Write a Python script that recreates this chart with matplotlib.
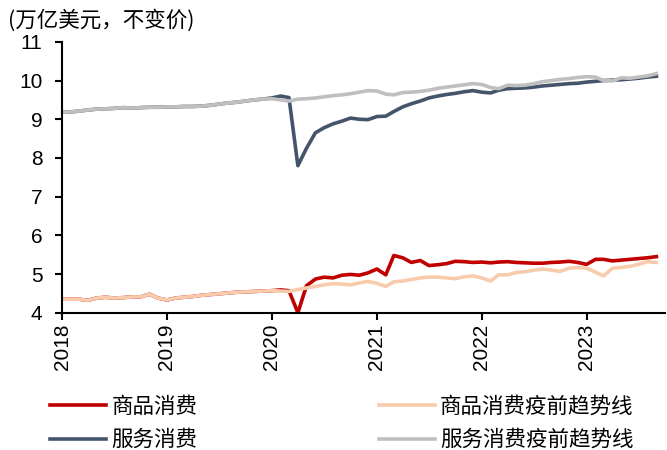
import matplotlib.pyplot as plt
import matplotlib.dates as mdates
import pandas as pd

plt.rcParams['font.family'] = ['Noto Sans CJK SC', 'DejaVu Sans']

months = pd.date_range('2018-01-01', '2023-09-01', freq='MS')

# 万亿美元, 不变价
goods = [4.35, 4.35, 4.35, 4.32, 4.38, 4.40, 4.38, 4.39, 4.41, 4.41, 4.48, 4.38,
         4.33, 4.38, 4.40, 4.42, 4.45, 4.47, 4.49, 4.51, 4.53, 4.54, 4.55, 4.56,
         4.57, 4.59, 4.57, 4.00, 4.70, 4.87, 4.92, 4.90, 4.97, 4.99, 4.97, 5.03,
         5.13, 4.98, 5.48, 5.42, 5.30, 5.35, 5.22, 5.24, 5.27, 5.33, 5.32, 5.30,
         5.31, 5.29, 5.31, 5.32, 5.30, 5.29, 5.28, 5.28, 5.30, 5.31, 5.33, 5.30,
         5.25, 5.38, 5.38, 5.34, 5.36, 5.38, 5.40, 5.42, 5.45]

goods_trend = goods[:24] + [
         4.57, 4.56, 4.55, 4.60, 4.64, 4.68, 4.72, 4.75, 4.74, 4.72, 4.77, 4.81,
         4.76, 4.68, 4.80, 4.82, 4.86, 4.90, 4.92, 4.92, 4.90, 4.88, 4.93, 4.95,
         4.90, 4.82, 4.98, 4.98, 5.04, 5.06, 5.10, 5.13, 5.10, 5.07, 5.15, 5.17,
         5.15, 5.05, 4.95, 5.15, 5.17, 5.20, 5.25, 5.32, 5.30]

services = [9.18, 9.19, 9.21, 9.24, 9.26, 9.27, 9.28, 9.30, 9.29, 9.30, 9.31, 9.31,
            9.32, 9.32, 9.33, 9.33, 9.34, 9.36, 9.39, 9.42, 9.44, 9.47, 9.50, 9.52,
            9.55, 9.60, 9.56, 7.80, 8.25, 8.65, 8.78, 8.88, 8.95, 9.03, 9.00, 8.99,
            9.07, 9.08, 9.20, 9.32, 9.40, 9.47, 9.55, 9.60, 9.64, 9.67, 9.71, 9.74,
            9.70, 9.68, 9.75, 9.79, 9.80, 9.81, 9.83, 9.86, 9.88, 9.90, 9.92, 9.93,
            9.96, 9.98, 10.00, 10.01, 10.02, 10.04, 10.06, 10.09, 10.11]

services_trend = services[:24] + [
            9.53, 9.50, 9.47, 9.52, 9.53, 9.55, 9.58, 9.61, 9.63, 9.66, 9.70, 9.74,
            9.73, 9.65, 9.63, 9.69, 9.70, 9.72, 9.75, 9.80, 9.83, 9.86, 9.89, 9.92,
            9.90, 9.82, 9.79, 9.88, 9.87, 9.88, 9.92, 9.97, 10.00, 10.03, 10.05, 10.08,
            10.10, 10.09, 10.00, 9.99, 10.07, 10.06, 10.09, 10.12, 10.18]

fig = plt.figure(figsize=(6.67, 4.5), dpi=100)
ax = fig.add_axes([0.093, 0.305, 0.904, 0.602])

lw = 2.6
ax.plot(months, goods, color='#C00000', lw=lw, label='商品消费')
ax.plot(months, goods_trend, color='#F8CBAD', lw=lw, label='商品消费疫前趋势线')
ax.plot(months, services, color='#44546A', lw=lw, label='服务消费')
ax.plot(months, services_trend, color='#BFBFBF', lw=lw, label='服务消费疫前趋势线')

ax.set_ylim(4, 11)
ax.set_yticks(range(4, 12))
ax.set_xlim(pd.Timestamp('2018-01-01'), pd.Timestamp('2023-10-01'))
ax.xaxis.set_major_locator(mdates.YearLocator())
ax.xaxis.set_major_formatter(mdates.DateFormatter('%Y'))
for lab in ax.get_xticklabels():
    lab.set_rotation(90)

for s in ['top', 'right']:
    ax.spines[s].set_visible(False)
for s in ['left', 'bottom']:
    ax.spines[s].set_linewidth(1.5)
ax.tick_params(axis='both', direction='out', length=5, width=1.5, labelsize=15)
ax.tick_params(axis='x', pad=3)
ax.tick_params(axis='y', pad=9)
for lab in ax.get_xticklabels() + ax.get_yticklabels():
    lab.set_family(['Liberation Sans', 'DejaVu Sans'])

fig.text(0.012, 0.955, '(万亿美元，不变价)', fontsize=15.5, va='center', ha='left')

handles, labels = ax.get_legend_handles_labels()
order = [0, 2, 1, 3]
fig.legend([handles[i] for i in order], [labels[i] for i in order],
           ncol=2, loc='upper left', bbox_to_anchor=(0.075, 0.121, 0.875, 0.0),
           mode='expand', frameon=False, fontsize=15.5, handlelength=2.6,
           handletextpad=0.25, labelspacing=0.54, borderaxespad=0, borderpad=0)

fig.savefig('out.png', dpi=100)
